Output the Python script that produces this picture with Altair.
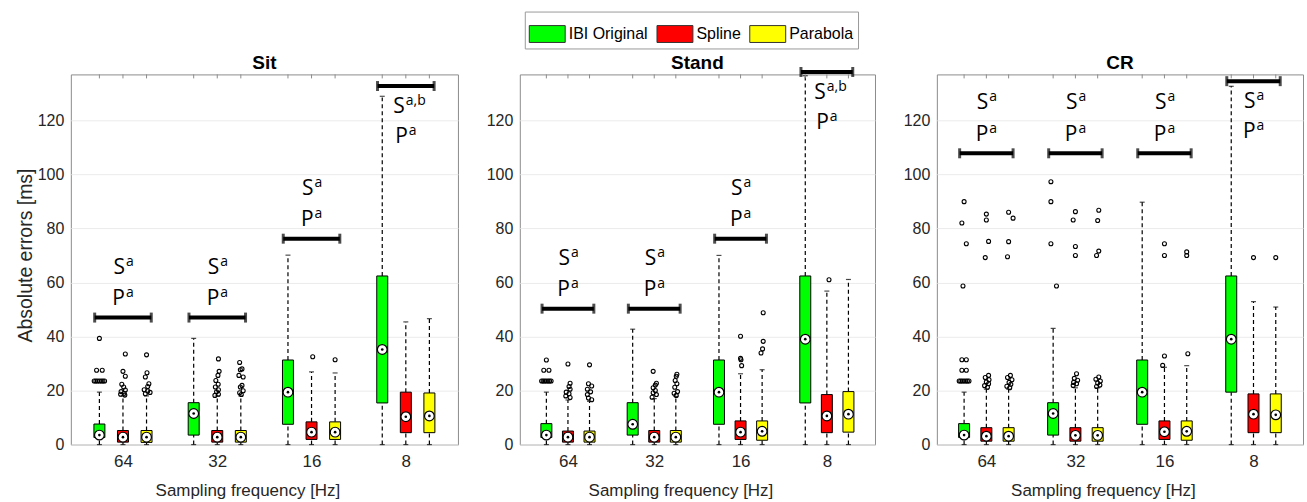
import json
import altair as alt
import pandas as pd

panels = ["Sit", "Stand", "CR"]
methods = ["IBI Original", "Spline", "Parabola"]
method_colors = ["#00ff00", "#ff0000", "#ffff00"]
freq_labels = ["64", "32", "16", "8"]
y_ticks = [0, 20, 40, 60, 80, 100, 120]
y_max = 137

# Box statistics, 12 boxes per panel: for 64, 32, 16 and 8 Hz in turn,
# IBI Original, Spline, Parabola
sit_q1 = [2.6, 0.9, 0.8, 3.5, 0.9, 0.9, 7.5, 1.9, 1.9, 15.4, 4.4, 4.4]
sit_med = [3.5, 2.75, 2.75, 11.5, 2.75, 2.75, 19.4, 4.6, 4.6, 35.2, 10.3, 10.6]
sit_q3 = [7.6, 5.2, 5.2, 15.5, 5.2, 5.2, 31.3, 8.4, 8.4, 62.4, 19.4, 19.1]
sit_lo = [0.0] * 12
sit_hi = [19.4, 18.0, 18.0, 39.3, 18.0, 18.0, 70.1, 26.9, 26.5, 128.9, 45.4, 46.6]

stand_q1 = [2.6, 0.9, 0.9, 3.5, 0.9, 0.9, 7.5, 1.9, 1.6, 15.4, 4.4, 4.6]
stand_med = [3.5, 2.75, 2.75, 7.5, 2.75, 2.75, 19.4, 4.6, 4.9, 39.0, 10.6, 11.25]
stand_q3 = [7.75, 5.0, 5.0, 15.5, 5.2, 5.2, 31.3, 8.75, 8.75, 62.4, 18.5, 19.6]
stand_lo = [0.0] * 12
stand_hi = [19.4, 16.5, 16.0, 42.7, 17.0, 17.8, 70.0, 26.2, 27.7, 136.5, 56.8, 61.1]

cr_q1 = [2.6, 1.25, 1.25, 3.5, 1.25, 1.25, 7.5, 1.9, 1.6, 19.4, 4.4, 4.4]
cr_med = [3.5, 3.1, 3.1, 11.5, 3.4, 3.4, 19.4, 4.75, 4.9, 39.0, 11.25, 11.0]
cr_q3 = [7.75, 6.25, 6.25, 15.5, 6.25, 6.25, 31.3, 8.75, 8.75, 62.4, 18.75, 18.75]
cr_lo = [0.0] * 12
cr_hi = [19.4, 20.5, 20.5, 43.0, 21.0, 21.0, 89.7, 28.6, 29.2, 132.6, 52.9, 50.9]

# Outliers as (box index, value, horizontal jitter in box units)
sit_out = [
    (0, 39.3, 0.0), (0, 27.5, -0.12), (0, 27.5, 0.12),
    (0, 23.5, -0.22), (0, 23.5, -0.15), (0, 23.5, -0.08), (0, 23.5, 0.0),
    (0, 23.5, 0.08), (0, 23.5, 0.15), (0, 23.5, 0.22),
    (1, 33.5, 0.1), (1, 27.1, 0.0), (1, 25.3, 0.1), (1, 22.3, -0.05),
    (1, 21.3, 0.03), (1, 20.2, 0.1), (1, 19.6, -0.08), (1, 19.0, 0.05),
    (1, 18.6, -0.1), (1, 18.3, 0.08),
    (2, 33.2, 0.0), (2, 26.6, 0.02), (2, 25.0, -0.05), (2, 22.5, 0.1),
    (2, 21.5, 0.05), (2, 20.3, -0.1), (2, 19.8, 0.05), (2, 19.3, 0.15),
    (2, 18.8, -0.05),
    (4, 31.7, 0.05), (4, 27.1, 0.08), (4, 25.6, 0.03), (4, 23.7, -0.06),
    (4, 22.3, 0.04), (4, 21.3, -0.08), (4, 20.3, 0.05), (4, 19.5, -0.03),
    (4, 18.6, 0.05), (4, 18.2, -0.1),
    (5, 30.4, -0.05), (5, 28.0, 0.05), (5, 27.7, -0.02), (5, 25.6, -0.08),
    (5, 25.0, 0.1), (5, 21.9, 0.05), (5, 21.3, -0.02), (5, 19.9, 0.1),
    (5, 19.2, -0.05), (5, 18.5, 0.02),
    (7, 32.5, 0.05), (8, 31.4, 0.0),
]
stand_out = [
    (0, 31.3, 0.0), (0, 27.5, -0.12), (0, 27.5, 0.12),
    (0, 23.5, -0.22), (0, 23.5, -0.15), (0, 23.5, -0.08), (0, 23.5, 0.0),
    (0, 23.5, 0.08), (0, 23.5, 0.15), (0, 23.5, 0.22),
    (1, 29.8, 0.0), (1, 22.7, 0.1), (1, 21.5, 0.05), (1, 20.5, 0.1),
    (1, 19.4, -0.08), (1, 18.8, 0.05), (1, 18.0, -0.1), (1, 17.4, 0.1),
    (2, 29.5, 0.0), (2, 22.5, -0.05), (2, 21.7, 0.1), (2, 20.5, -0.1),
    (2, 19.5, 0.05), (2, 18.5, -0.1), (2, 17.2, -0.05), (2, 16.6, 0.1),
    (4, 27.1, -0.05), (4, 22.7, 0.1), (4, 22.0, 0.05), (4, 21.0, -0.05),
    (4, 20.0, 0.05), (4, 19.2, -0.05), (4, 18.5, 0.1), (4, 17.5, -0.1),
    (5, 26.0, 0.05), (5, 25.3, 0.02), (5, 23.7, -0.03), (5, 22.5, 0.05),
    (5, 21.2, -0.05), (5, 19.6, 0.08), (5, 19.0, -0.08), (5, 18.2, 0.02),
    (7, 40.1, 0.0), (7, 31.9, 0.0), (7, 31.4, 0.02), (7, 29.2, 0.05),
    (8, 48.8, 0.05), (8, 38.2, 0.05), (8, 35.4, 0.02), (8, 33.9, -0.05),
    (10, 61.0, 0.1),
]
cr_out = [
    (0, 89.9, 0.0), (0, 82.0, -0.1), (0, 74.3, 0.1), (0, 58.7, -0.05),
    (0, 31.4, -0.1), (0, 31.4, 0.1), (0, 27.5, -0.1), (0, 27.5, 0.1),
    (0, 23.5, -0.22), (0, 23.5, -0.15), (0, 23.5, -0.08), (0, 23.5, 0.0),
    (0, 23.5, 0.08), (0, 23.5, 0.15), (0, 23.5, 0.22),
    (1, 85.3, 0.0), (1, 83.1, 0.0), (1, 75.2, 0.1), (1, 69.2, -0.05),
    (1, 25.6, 0.1), (1, 24.8, -0.05), (1, 24.0, 0.12), (1, 23.2, 0.0),
    (1, 22.5, 0.1), (1, 21.8, -0.08), (1, 21.2, 0.05),
    (2, 86.0, 0.0), (2, 83.8, 0.2), (2, 75.1, 0.0), (2, 69.5, -0.05),
    (2, 25.6, 0.08), (2, 24.8, -0.05), (2, 24.0, 0.15), (2, 23.0, 0.02),
    (2, 22.3, 0.1), (2, 21.6, -0.08), (2, 21.0, 0.05),
    (3, 97.3, -0.1), (3, 89.9, -0.1), (3, 74.3, -0.1), (3, 58.7, 0.15),
    (4, 86.2, 0.0), (4, 83.1, -0.1), (4, 73.3, 0.0), (4, 70.0, 0.0),
    (4, 26.2, 0.05), (4, 24.5, -0.05), (4, 23.8, 0.1), (4, 23.0, -0.08),
    (4, 22.5, 0.05), (4, 21.9, -0.1),
    (5, 86.7, 0.05), (5, 82.9, 0.0), (5, 71.6, 0.05), (5, 70.0, -0.05),
    (5, 25.0, 0.05), (5, 24.2, -0.08), (5, 23.5, 0.12), (5, 22.8, 0.0),
    (5, 22.0, 0.1), (5, 21.5, -0.05),
    (7, 74.3, 0.0), (7, 70.0, 0.0), (7, 32.8, 0.0), (7, 29.3, -0.08),
    (8, 71.3, 0.0), (8, 70.0, 0.0), (8, 33.6, 0.05),
    (10, 69.2, 0.0), (11, 69.2, 0.0),
]

# Significance brackets per frequency group: level, and whether the letters
# sit below the bracket; superscripts for the Spline (S) and Parabola (P) rows
sit_bracket = [47.0, 47.0, 76.2, 132.7]
stand_bracket = [50.3, 50.3, 76.2, 137.9]
cr_bracket = [107.8, 107.8, 107.8, 134.5]
sit_below = [False, False, False, True]
stand_below = [False, False, False, True]
cr_below = [False, False, False, True]
sit_s_sup = ["a", "a", "a", "a,b"]
stand_s_sup = ["a", "a", "a", "a,b"]
cr_s_sup = ["a", "a", "a", "a"]
p_sup = ["a", "a", "a", "a"]

panel_data = {
    "Sit": (sit_q1, sit_med, sit_q3, sit_lo, sit_hi, sit_out,
            sit_bracket, sit_below, sit_s_sup),
    "Stand": (stand_q1, stand_med, stand_q3, stand_lo, stand_hi, stand_out,
              stand_bracket, stand_below, stand_s_sup),
    "CR": (cr_q1, cr_med, cr_q3, cr_lo, cr_hi, cr_out,
           cr_bracket, cr_below, cr_s_sup),
}
panel_widths = {"Sit": 388, "Stand": 356, "CR": 367}
plot_height = 371
px_per_unit = plot_height / y_max


def box_pos(b):
    return 4 * (b // 3) + (b % 3) + 1


def frames(name):
    q1, med, q3, lo, hi, outs, br, below, ssup = panel_data[name]
    boxes = pd.DataFrame({
        "pos": [box_pos(b) for b in range(12)],
        "method": [methods[b % 3] for b in range(12)],
        "q1": q1, "med": med, "q3": q3, "lo": lo, "hi": hi,
    })
    outliers = pd.DataFrame({
        "ox": [box_pos(b) + dx for b, v, dx in outs],
        "value": [v for b, v, dx in outs],
    })
    centers = [4 * g + 2 for g in range(4)]
    brackets = pd.DataFrame({
        "x1": [c - 1.2 for c in centers],
        "x2": [c + 1.2 for c in centers],
        "level": br,
    })
    rows = []
    for g, c in enumerate(centers):
        if below[g]:
            s_off, p_off = -21 / px_per_unit, -51 / px_per_unit
        else:
            s_off, p_off = 50 / px_per_unit, 18.5 / px_per_unit
        rows.append({"c": c, "ty": br[g] + s_off, "main": "S", "sup": ssup[g]})
        rows.append({"c": c, "ty": br[g] + p_off, "main": "P", "sup": p_sup[g]})
    letters = pd.DataFrame(rows)
    return boxes, outliers, brackets, letters


FONT = "Liberation Sans"
LETTER_FONT = "Open Sans"
label_expr = "%s[round((datum.value - 2) / 4)]" % json.dumps(freq_labels)

legend = alt.Legend(
    orient="none", legendX=455, legendY=-63, direction="horizontal",
    columns=3, title=None,
    symbolType="M-1,-0.47H1V0.47H-1Z", symbolSize=1296,
    symbolStrokeColor="#333333", symbolStrokeWidth=1, symbolOpacity=1,
    labelFont=FONT, labelFontSize=16, labelColor="black", labelOffset=3,
    columnPadding=6, padding=4, strokeColor="#9a9a9a", fillColor="white",
)


def panel_chart(name, show_ytitle):
    width = panel_widths[name]
    boxes, outliers, brackets, letters = frames(name)
    xscale = alt.Scale(domain=[0, 16], nice=False, zero=False)
    yscale = alt.Scale(domain=[0, y_max], nice=False, zero=False)
    xaxis = alt.Axis(
        values=[2, 6, 10, 14], labelExpr=label_expr, labelAngle=0,
        title="Sampling frequency [Hz]", grid=False, domain=False, ticks=False,
        labelFont=FONT, labelFontSize=17, labelColor="#262626", labelPadding=9,
        titleFont=FONT, titleFontSize=17, titleFontWeight="normal",
        titleColor="#262626", titleX=width / 2 - 17, titleY=51,
        titleBaseline="alphabetic",
    )
    yaxis_kw = dict(
        values=y_ticks, grid=True, gridColor="#ebebeb", gridWidth=1,
        domain=False, ticks=False,
        labelFont=FONT, labelFontSize=16, labelColor="#262626", labelPadding=7,
    )
    if show_ytitle:
        yaxis = alt.Axis(
            title="Absolute errors [ms]", titleFont=FONT, titleFontSize=19.5,
            titleFontWeight="normal", titleColor="#262626",
            titleX=-45, titleY=181, titleBaseline="middle", **yaxis_kw)
    else:
        yaxis = alt.Axis(title=None, **yaxis_kw)
    X = alt.X("pos:Q", scale=xscale, axis=xaxis)
    base = alt.Chart(boxes)

    whisk_lo = base.mark_rule(color="black", strokeDash=[4, 3], strokeWidth=1.2).encode(
        x=X, y=alt.Y("lo:Q", scale=yscale, axis=yaxis), y2="q1:Q")
    whisk_hi = base.mark_rule(color="black", strokeDash=[4, 3], strokeWidth=1.2).encode(
        x="pos:Q", y="q3:Q", y2="hi:Q")
    cap_hi = base.mark_tick(orient="horizontal", size=5, thickness=1.2, color="black").encode(
        x="pos:Q", y="hi:Q")
    cap_lo = base.mark_tick(orient="horizontal", size=5, thickness=1.2, color="black").encode(
        x="pos:Q", y="lo:Q")
    bars = base.mark_bar(size=11, stroke="black", strokeWidth=1).encode(
        x="pos:Q", y="q1:Q", y2="q3:Q",
        color=alt.Color("method:N", scale=alt.Scale(domain=methods, range=method_colors),
                        legend=legend))
    med_ring = base.mark_point(shape="circle", filled=True, fill="white", stroke="black",
                               strokeWidth=1.2, size=95, opacity=1).encode(
        x="pos:Q", y="med:Q")
    med_dot = base.mark_point(shape="circle", filled=True, color="black", size=7,
                              opacity=1).encode(x="pos:Q", y="med:Q")
    top_ticks = base.mark_rule(color="#8c8c8c").encode(
        x="pos:Q", y=alt.value(0), y2=alt.value(4))

    outl = alt.Chart(outliers).mark_point(shape="circle", filled=False, color="black",
                                          size=16, strokeWidth=1.1, opacity=1).encode(
        x="ox:Q", y="value:Q")

    bchart = alt.Chart(brackets)
    br_line = bchart.mark_rule(color="black", strokeWidth=4).encode(
        x="x1:Q", x2="x2:Q", y="level:Q")
    br_cap1 = bchart.mark_tick(orient="vertical", size=10, thickness=3, color="black").encode(
        x="x1:Q", y="level:Q")
    br_cap2 = bchart.mark_tick(orient="vertical", size=10, thickness=3, color="black").encode(
        x="x2:Q", y="level:Q")

    title = alt.Chart(pd.DataFrame({"t": [name]})).mark_text(
        font=FONT, fontSize=19, fontWeight="bold", color="black",
        align="center", baseline="alphabetic").encode(
        text="t:N", x=alt.value(width / 2), y=alt.value(-5))

    layers = [whisk_lo, whisk_hi, cap_hi, cap_lo, bars, med_ring, med_dot,
              top_ticks, outl, br_line, br_cap1, br_cap2, title]

    for sup, dxm in [("a", 2), ("a,b", -1)]:
        sub = letters[letters["sup"] == sup]
        if len(sub) == 0:
            continue
        tc = alt.Chart(sub)
        layers.append(tc.mark_text(align="right", baseline="middle", dx=dxm,
                                   font=LETTER_FONT, fontSize=21, color="black").encode(
            x="c:Q", y="ty:Q", text="main:N"))
        layers.append(tc.mark_text(align="left", baseline="middle", dx=dxm + 1, dy=-6,
                                   font=LETTER_FONT, fontSize=14, color="black").encode(
            x="c:Q", y="ty:Q", text="sup:N"))

    return alt.layer(*layers).properties(width=width, height=plot_height)


chart = alt.hconcat(
    panel_chart("Sit", True),
    panel_chart("Stand", False),
    panel_chart("CR", False),
    spacing=62, bounds="flush",
).resolve_scale(color="shared").properties(
    padding={"left": 15, "top": 10, "right": 3, "bottom": 5},
    background="white",
).configure_view(stroke="#8c8c8c", strokeWidth=1)

chart.save("out.html", embed_options={"renderer": "svg", "actions": False})
